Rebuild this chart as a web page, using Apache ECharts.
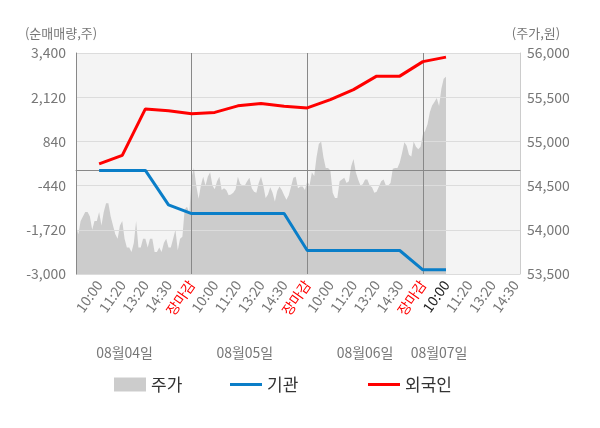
<!DOCTYPE html>
<html>
<head>
<meta charset="utf-8">
<script src="https://cdn.jsdelivr.net/npm/echarts@6/dist/echarts.min.js"></script>
<style>
  html, body { margin: 0; padding: 0; background: #fff; }
  #chart { width: 600px; height: 428px; }
</style>
</head>
<body>
<div id="chart"></div>
<script>
// 시간 눈금 (하루 5칸), 날짜
const tickLabels = ['10:00', '11:20', '13:20', '14:30', '장마감'];
const dayLabels = ['08월04일', '08월05일', '08월06일', '08월07일'];
const leftTicks = [-3000, -1720, -440, 840, 2120, 3400];

// 주가 (원) - 일자별
const priceDay1 = [54050, 53950, 54100, 54150, 54200, 54200, 54150, 54000, 54100, 54100,
  54200, 54050, 54200, 54300, 54300, 54150, 54050, 53950, 53900, 54050,
  54100, 53900, 53800, 53800, 53750, 53850, 54100, 53800, 53800, 53900,
  53900, 53800, 53900, 53900, 53750, 53750, 53800, 53750, 53850, 53900,
  53800, 53800, 53900, 54000, 53770, 53900, 53920, 54230, 54260, 54190];
const priceDay2 = [54600, 54700, 54500, 54350, 54500, 54600, 54500, 54600, 54650, 54500,
  54460, 54550, 54600, 54450, 54470, 54450, 54390, 54400, 54420, 54460,
  54600, 54520, 54500, 54500, 54550, 54590, 54470, 54430, 54420, 54530,
  54600, 54500, 54360, 54400, 54480, 54420, 54320, 54440, 54490, 54450,
  54390, 54340, 54390, 54490, 54590, 54600, 54470, 54490, 54490, 54450];
const priceDay3 = [54550, 54500, 54650, 54610, 54820, 54970, 55000, 54820, 54700, 54700,
  54670, 54420, 54360, 54360, 54550, 54570, 54590, 54530, 54550, 54720,
  54800, 54650, 54570, 54500, 54515, 54570, 54570, 54500, 54480, 54420,
  54430, 54490, 54550, 54570, 54500, 54500, 54530, 54690, 54700, 54700,
  54760, 54870, 54990, 54950, 54850, 54830, 55000, 54940, 54910, 54940];
const priceDay4 = [55080, 55120, 55195, 55330, 55405, 55445, 55490, 55400, 55595, 55710, 55730];

// 순매매량 (주) - 10:00, 11:20, 13:20, 14:30, 장마감 시점
const institution = [0, 0, 0, -1000, -1250, -1250, -1250, -1250, -1250, -2320,
  -2320, -2320, -2320, -2320, -2880, -2880];
const foreigner = [190, 435, 1780, 1730, 1640, 1680, 1870, 1940, 1860, 1810,
  2050, 2340, 2730, 2730, 3150, 3280];

const SLOT = 10;            // 눈금 한 칸당 포인트 수
const DAY = SLOT * 5;
const TOTAL = DAY * 3 + SLOT * 4 + 3;

const price = [].concat(priceDay1, priceDay2, priceDay3, priceDay4);
const lastIdx = price.length - 1;

const categories = [];
for (let i = 0; i < TOTAL; i++) categories.push('p' + i);

function labelAt(i) {
  const k = i % DAY;
  if (i === 0 || k % SLOT !== 0) return null;
  return tickLabels[(k / SLOT + 4) % 5];
}

function flowSeries(vals) {
  const out = new Array(TOTAL).fill(null);
  vals.forEach((v, j) => { out[(j + 1) * SLOT] = v; });
  return out;
}

const dateIdx = [21, 73, 125, 157];

const chart = echarts.init(document.getElementById('chart'));
const font = '"Noto Sans CJK KR", "Noto Sans", sans-serif';
const legendText = { fontSize: 17, color: '#333', fontFamily: font };

chart.setOption({
  animation: false,
  textStyle: { fontFamily: font },
  grid: { left: 76, right: 80, top: 53, bottom: 154, show: true, backgroundColor: '#f4f4f4', borderWidth: 0 },
  legend: [
    { data: [{ name: '주가', icon: 'rect' }], left: 109, top: 371, itemWidth: 32, itemHeight: 14, textStyle: legendText },
    { data: [{ name: '기관', icon: 'rect' }], left: 225, top: 371, itemWidth: 32, itemHeight: 3, textStyle: legendText },
    { data: [{ name: '외국인', icon: 'rect' }], left: 363, top: 371, itemWidth: 32, itemHeight: 3, textStyle: legendText }
  ],
  xAxis: [
    {
      type: 'category', data: categories, boundaryGap: false, z: 3,
      axisLine: { lineStyle: { color: '#888' } },
      axisTick: { interval: (i) => i % DAY === 0, length: 5, lineStyle: { color: '#888' } },
      splitLine: { show: true, interval: (i) => i > 0 && i % DAY === 0, lineStyle: { color: '#888' } },
      axisLabel: {
        interval: (i) => labelAt(i) !== null,
        rotate: 55, fontSize: 14, color: '#777', margin: 8,
        formatter: (v, i) => {
          const t = labelAt(i);
          if (t === '장마감') return '{r|' + t + '}';
          if (i === lastIdx) return '{k|' + t + '}';
          return t;
        },
        rich: { r: { color: '#ff0000', fontSize: 14 }, k: { color: '#222', fontSize: 14 } }
      }
    },
    {
      type: 'category', data: categories, boundaryGap: false, position: 'bottom', offset: 64,
      axisLine: { show: false }, axisTick: { show: false }, splitLine: { show: false },
      axisLabel: {
        interval: (i) => dateIdx.indexOf(i) >= 0,
        fontSize: 14, color: '#777',
        formatter: (v, i) => dayLabels[dateIdx.indexOf(i)]
      }
    }
  ],
  yAxis: [
    {
      type: 'value', min: -3000, max: 3400, z: 3,
      name: '(순매매량,주)', nameLocation: 'end', nameGap: 13,
      nameTextStyle: { fontSize: 13, color: '#777', align: 'center', padding: [0, 30, 0, 0] },
      axisLine: { show: true, lineStyle: { color: '#888' } },
      axisTick: { show: false },
      splitLine: { show: false },
      axisLabel: { customValues: leftTicks, fontSize: 14, color: '#777', margin: 10,
        formatter: (v) => v.toLocaleString('en-US') }
    },
    {
      type: 'value', min: 53500, max: 56000, interval: 500, z: 3, position: 'right',
      name: '(주가,원)', nameLocation: 'end', nameGap: 13,
      nameTextStyle: { fontSize: 13, color: '#777', align: 'center', padding: [0, 0, 0, 32] },
      axisLine: { show: true, lineStyle: { color: '#ccc' } },
      axisTick: { show: false },
      splitLine: { show: true, lineStyle: { color: '#dcdcdc' } },
      axisLabel: { fontSize: 14, color: '#777', margin: 7,
        formatter: (v) => v.toLocaleString('en-US') }
    }
  ],
  series: [
    {
      name: '주가', type: 'line', yAxisIndex: 1, data: price, symbol: 'none', z: 2,
      itemStyle: { color: '#cccccc' },
      lineStyle: { width: 0, color: '#cccccc' },
      areaStyle: { color: '#cccccc', opacity: 1, origin: 'start' }
    },
    {
      name: 'zero', type: 'line', yAxisIndex: 0, data: [], z: 3,
      markLine: {
        silent: true, symbol: 'none', label: { show: false }, animation: false,
        lineStyle: { color: '#888', type: 'solid', width: 1 },
        data: [{ yAxis: 0 }]
      }
    },
    {
      name: '기관', type: 'line', yAxisIndex: 0, data: flowSeries(institution), connectNulls: true,
      symbol: 'none', z: 5, itemStyle: { color: '#0a7ec8' }, lineStyle: { color: '#0a7ec8', width: 3 }
    },
    {
      name: '외국인', type: 'line', yAxisIndex: 0, data: flowSeries(foreigner), connectNulls: true,
      symbol: 'none', z: 5, itemStyle: { color: '#ff0000' }, lineStyle: { color: '#ff0000', width: 3 }
    }
  ]
});
</script>
</body>
</html>
